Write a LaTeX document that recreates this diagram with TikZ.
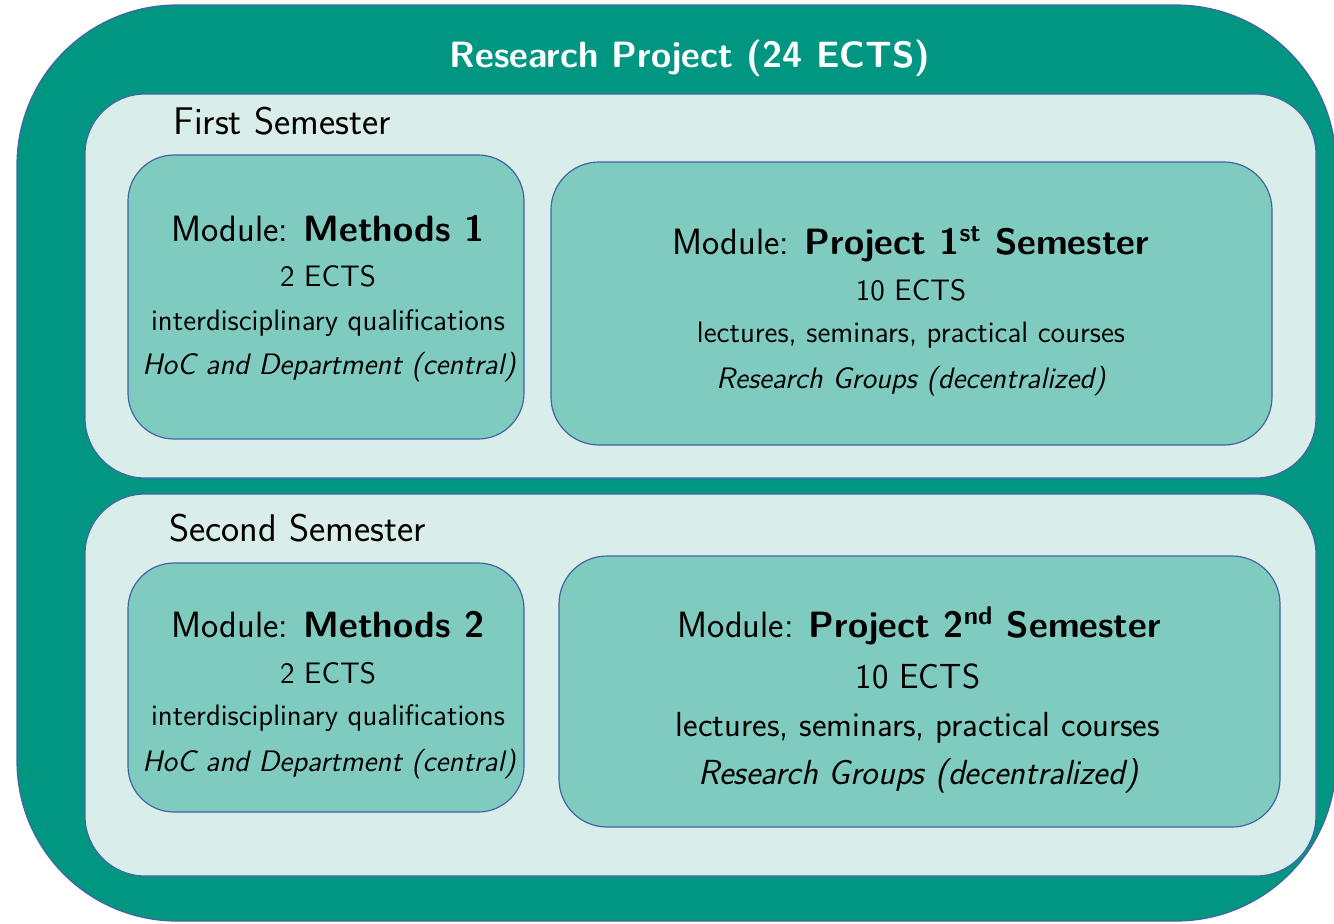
\documentclass[tikz,border=0pt]{standalone}
\definecolor{kitgreen}{RGB}{0,150,130}
\definecolor{kitlight}{RGB}{217,238,235}
\definecolor{kitmid}{RGB}{127,203,192}
\definecolor{edgeblue}{RGB}{68,100,165}
\newcommand\fbig{\fontsize{18.3}{22}\selectfont}
\newcommand\fsem{\fontsize{19.3}{23}\selectfont}
\newcommand\fbody{\fontsize{14.8}{17}\selectfont}
\newcommand\fbodyL{\fontsize{17.4}{20}\selectfont}
\begin{document}
\begin{tikzpicture}[x=0.5pt,y=-0.5pt,
  panel/.style={draw=edgeblue, line width=0.6pt, inner sep=0pt, outer sep=0pt},
  txt/.style={font=\sffamily, inner sep=0pt, anchor=base, text=black},
]
\useasboundingbox (0,0) rectangle (1334,923);
% outer frame
\node[panel, fill=kitgreen, rounded corners=80pt, minimum width=659.5pt, minimum height=458pt] (outer) at (676.5,463) {};
% semester panels
\node[panel, fill=kitlight, rounded corners=30pt, minimum width=615.5pt, minimum height=192pt] (sem1) at (700.5,286) {};
\node[panel, fill=kitlight, rounded corners=30pt, minimum width=615.5pt, minimum height=191pt] (sem2) at (700.5,685) {};
% modules
\node[panel, fill=kitmid, rounded corners=23pt, minimum width=198pt, minimum height=142pt] (m1) at (326,297) {};
\node[panel, fill=kitmid, rounded corners=24pt, minimum width=360.5pt, minimum height=141.5pt] (p1) at (911.5,303.5) {};
\node[panel, fill=kitmid, rounded corners=23pt, minimum width=198pt, minimum height=124.5pt] (m2) at (326,687.5) {};
\node[panel, fill=kitmid, rounded corners=24pt, minimum width=360.5pt, minimum height=135.5pt] (p2) at (919.5,691.5) {};
% titles
\node[txt, text=white, font=\sffamily\bfseries\fbig] (title) at (690,67) {Research Project (24 ECTS)};
\node[txt, anchor=base west, font=\sffamily\fsem] (s1) at (173,134) {First Semester};
\node[txt, anchor=base west, font=\sffamily\fsem] (s2) at (169,541) {Second Semester};
% Methods 1
\node[txt, font=\sffamily\fbig] (m1a) at (328,241) {Module: \textbf{Methods 1}};
\node[txt, font=\sffamily\fbody] (m1b) at (328,286) {2 ECTS};
\node[txt, font=\sffamily\fbody] (m1c) at (328,330) {interdisciplinary qualifications};
\node[txt, font=\sffamily\itshape\fbody] (m1d) at (329,374) {HoC and Department (central)};
% Project 1
\node[txt, font=\sffamily\fbig] (p1a) at (911,254) {Module: \textbf{Project 1\textsuperscript{st} Semester}};
\node[txt, font=\sffamily\fbody] (p1b) at (911,300) {10 ECTS};
\node[txt, font=\sffamily\fbody] (p1c) at (911,342) {lectures, seminars, practical courses};
\node[txt, font=\sffamily\itshape\fbody] (p1d) at (911,388) {Research Groups (decentralized)};
% Methods 2
\node[txt, font=\sffamily\fbig] (m2a) at (328,637) {Module: \textbf{Methods 2}};
\node[txt, font=\sffamily\fbody] (m2b) at (328,683) {2 ECTS};
\node[txt, font=\sffamily\fbody] (m2c) at (328,725) {interdisciplinary qualifications};
\node[txt, font=\sffamily\itshape\fbody] (m2d) at (329,771) {HoC and Department (central)};
% Project 2
\node[txt, font=\sffamily\fbig] (p2a) at (919,637) {Module: \textbf{Project 2\textsuperscript{nd} Semester}};
\node[txt, font=\sffamily\fbodyL] (p2b) at (918,688) {10 ECTS};
\node[txt, font=\sffamily\fbodyL] (p2c) at (918,736) {lectures, seminars, practical courses};
\node[txt, font=\sffamily\itshape\fbodyL] (p2d) at (918,784) {Research Groups (decentralized)};
\end{tikzpicture}
\end{document}
